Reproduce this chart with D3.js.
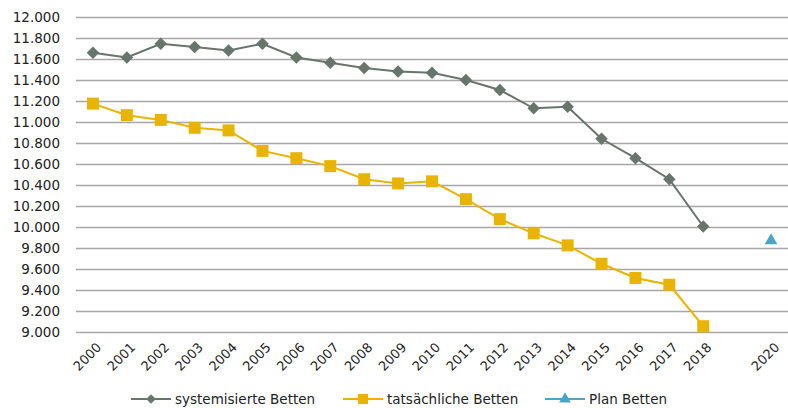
<!DOCTYPE html>
<html>
<head>
<meta charset="utf-8">
<script src="https://cdn.jsdelivr.net/npm/d3@7"></script>
<style>
  body { margin: 0; background: #fff; }
  svg { display: block; font-family: "DejaVu Sans", sans-serif; }
</style>
</head>
<body>
<svg id="chart" width="788" height="408"></svg>
<script>
// Years on the x axis (2019 has no label in the original)
const years = ["2000","2001","2002","2003","2004","2005","2006","2007","2008","2009",
  "2010","2011","2012","2013","2014","2015","2016","2017","2018","2019","2020"];
const yearLabels = ["2000","2001","2002","2003","2004","2005","2006","2007","2008","2009",
  "2010","2011","2012","2013","2014","2015","2016","2017","2018","","2020"];

// systemisierte Betten 2000-2018
const systemYears = ["2000","2001","2002","2003","2004","2005","2006","2007","2008","2009",
  "2010","2011","2012","2013","2014","2015","2016","2017","2018"];
const systemValues = [11660, 11615, 11745, 11715, 11680, 11745, 11615, 11565, 11515, 11480,
  11470, 11400, 11305, 11130, 11145, 10840, 10655, 10455, 10005];

// tatsächliche Betten 2000-2018
const actualValues = [11175, 11065, 11020, 10945, 10920, 10725, 10655, 10580, 10455, 10415,
  10435, 10265, 10075, 9940, 9825, 9650, 9515, 9450, 9055];

// Plan Betten 2020
const planYears = ["2020"];
const planValues = [9870];

const yTicks = [9000, 9200, 9400, 9600, 9800, 10000, 10200, 10400, 10600, 10800,
  11000, 11200, 11400, 11600, 11800, 12000];

const svg = d3.select("#chart");
const margin = { left: 76, right: 0, top: 17, bottom: 76 };
const width = 788, height = 408;

const x = d3.scaleBand()
  .domain(years)
  .range([margin.left, width - margin.right]);

const y = d3.scaleLinear()
  .domain([9000, 12000])
  .range([height - margin.bottom, margin.top]);

const fmt = v => d3.format(",")(v).replace(/,/g, ".");

// Gridlines
svg.append("g")
  .selectAll("line")
  .data(yTicks)
  .join("line")
    .attr("x1", margin.left)
    .attr("x2", width - margin.right)
    .attr("y1", d => Math.round(y(d)) + 0.5)
    .attr("y2", d => Math.round(y(d)) + 0.5)
    .attr("stroke", "#a6a6a6")
    .attr("stroke-width", 1.3);

// Y axis labels
svg.append("g")
  .selectAll("text")
  .data(yTicks)
  .join("text")
    .attr("x", 60)
    .attr("y", d => y(d))
    .attr("dy", "0.35em")
    .attr("text-anchor", "end")
    .attr("font-size", 13.5)
    .attr("fill", "#222")
    .text(d => fmt(d));

// X axis labels (rotated)
svg.append("g")
  .selectAll("text")
  .data(years)
  .join("text")
    .attr("transform", d => {
      const cx = x(d) + x.bandwidth() / 2 + 6;
      return `translate(${cx},${height - margin.bottom + 13}) rotate(-45)`;
    })
    .attr("text-anchor", "end")
    .attr("dy", "0.35em")
    .attr("font-size", 13)
    .attr("fill", "#222")
    .text((d, i) => yearLabels[i]);

const cxOf = d => x(d) + x.bandwidth() / 2;

const grayColor = "#67756b";
const yellowColor = "#e9b400";
const blueColor = "#4ba5c9";

const line = d3.line()
  .x(d => cxOf(d.year))
  .y(d => y(d.value));

const systemData = systemYears.map((yr, i) => ({ year: yr, value: systemValues[i] }));
const actualData = systemYears.map((yr, i) => ({ year: yr, value: actualValues[i] }));
const planData = planYears.map((yr, i) => ({ year: yr, value: planValues[i] }));

// systemisierte Betten
svg.append("path")
  .datum(systemData)
  .attr("fill", "none")
  .attr("stroke", grayColor)
  .attr("stroke-width", 2)
  .attr("d", line);

svg.append("g")
  .selectAll("path")
  .data(systemData)
  .join("path")
    .attr("transform", d => `translate(${cxOf(d.year)},${y(d.value)})`)
    .attr("d", d3.symbol(d3.symbolDiamond2, 100))
    .attr("fill", grayColor);

// tatsächliche Betten
svg.append("path")
  .datum(actualData)
  .attr("fill", "none")
  .attr("stroke", yellowColor)
  .attr("stroke-width", 2)
  .attr("d", line);

svg.append("g")
  .selectAll("rect")
  .data(actualData)
  .join("rect")
    .attr("x", d => cxOf(d.year) - 6)
    .attr("y", d => y(d.value) - 6)
    .attr("width", 12)
    .attr("height", 12)
    .attr("fill", yellowColor);

// Plan Betten
svg.append("g")
  .selectAll("path")
  .data(planData)
  .join("path")
    .attr("transform", d => `translate(${cxOf(d.year)},${y(d.value)})`)
    .attr("d", d3.symbol(d3.symbolTriangle, 70))
    .attr("fill", blueColor);

// Legend
const legendItems = [
  { label: "systemisierte Betten", color: grayColor, x: 131, marker: "diamond" },
  { label: "tatsächliche Betten", color: yellowColor, x: 343, marker: "square" },
  { label: "Plan Betten", color: blueColor, x: 545, marker: "triangle" }
];
const ly = 399;
const lg = svg.append("g");
legendItems.forEach(item => {
  const g = lg.append("g");
  g.append("line")
    .attr("x1", item.x).attr("x2", item.x + 40)
    .attr("y1", ly).attr("y2", ly)
    .attr("stroke", item.color).attr("stroke-width", 2);
  const mx = item.x + 20;
  if (item.marker === "square") {
    g.append("rect").attr("x", mx - 5).attr("y", ly - 5)
      .attr("width", 10).attr("height", 10).attr("fill", item.color);
  } else {
    const type = item.marker === "diamond" ? d3.symbolDiamond2 : d3.symbolTriangle;
    g.append("path")
      .attr("transform", `translate(${mx},${ly})`)
      .attr("d", d3.symbol(type, 60))
      .attr("fill", item.color);
  }
  g.append("text")
    .attr("x", item.x + 44)
    .attr("y", ly)
    .attr("dy", "0.35em")
    .attr("font-size", 13.5)
    .attr("fill", "#222")
    .text(item.label);
});
</script>
</body>
</html>
